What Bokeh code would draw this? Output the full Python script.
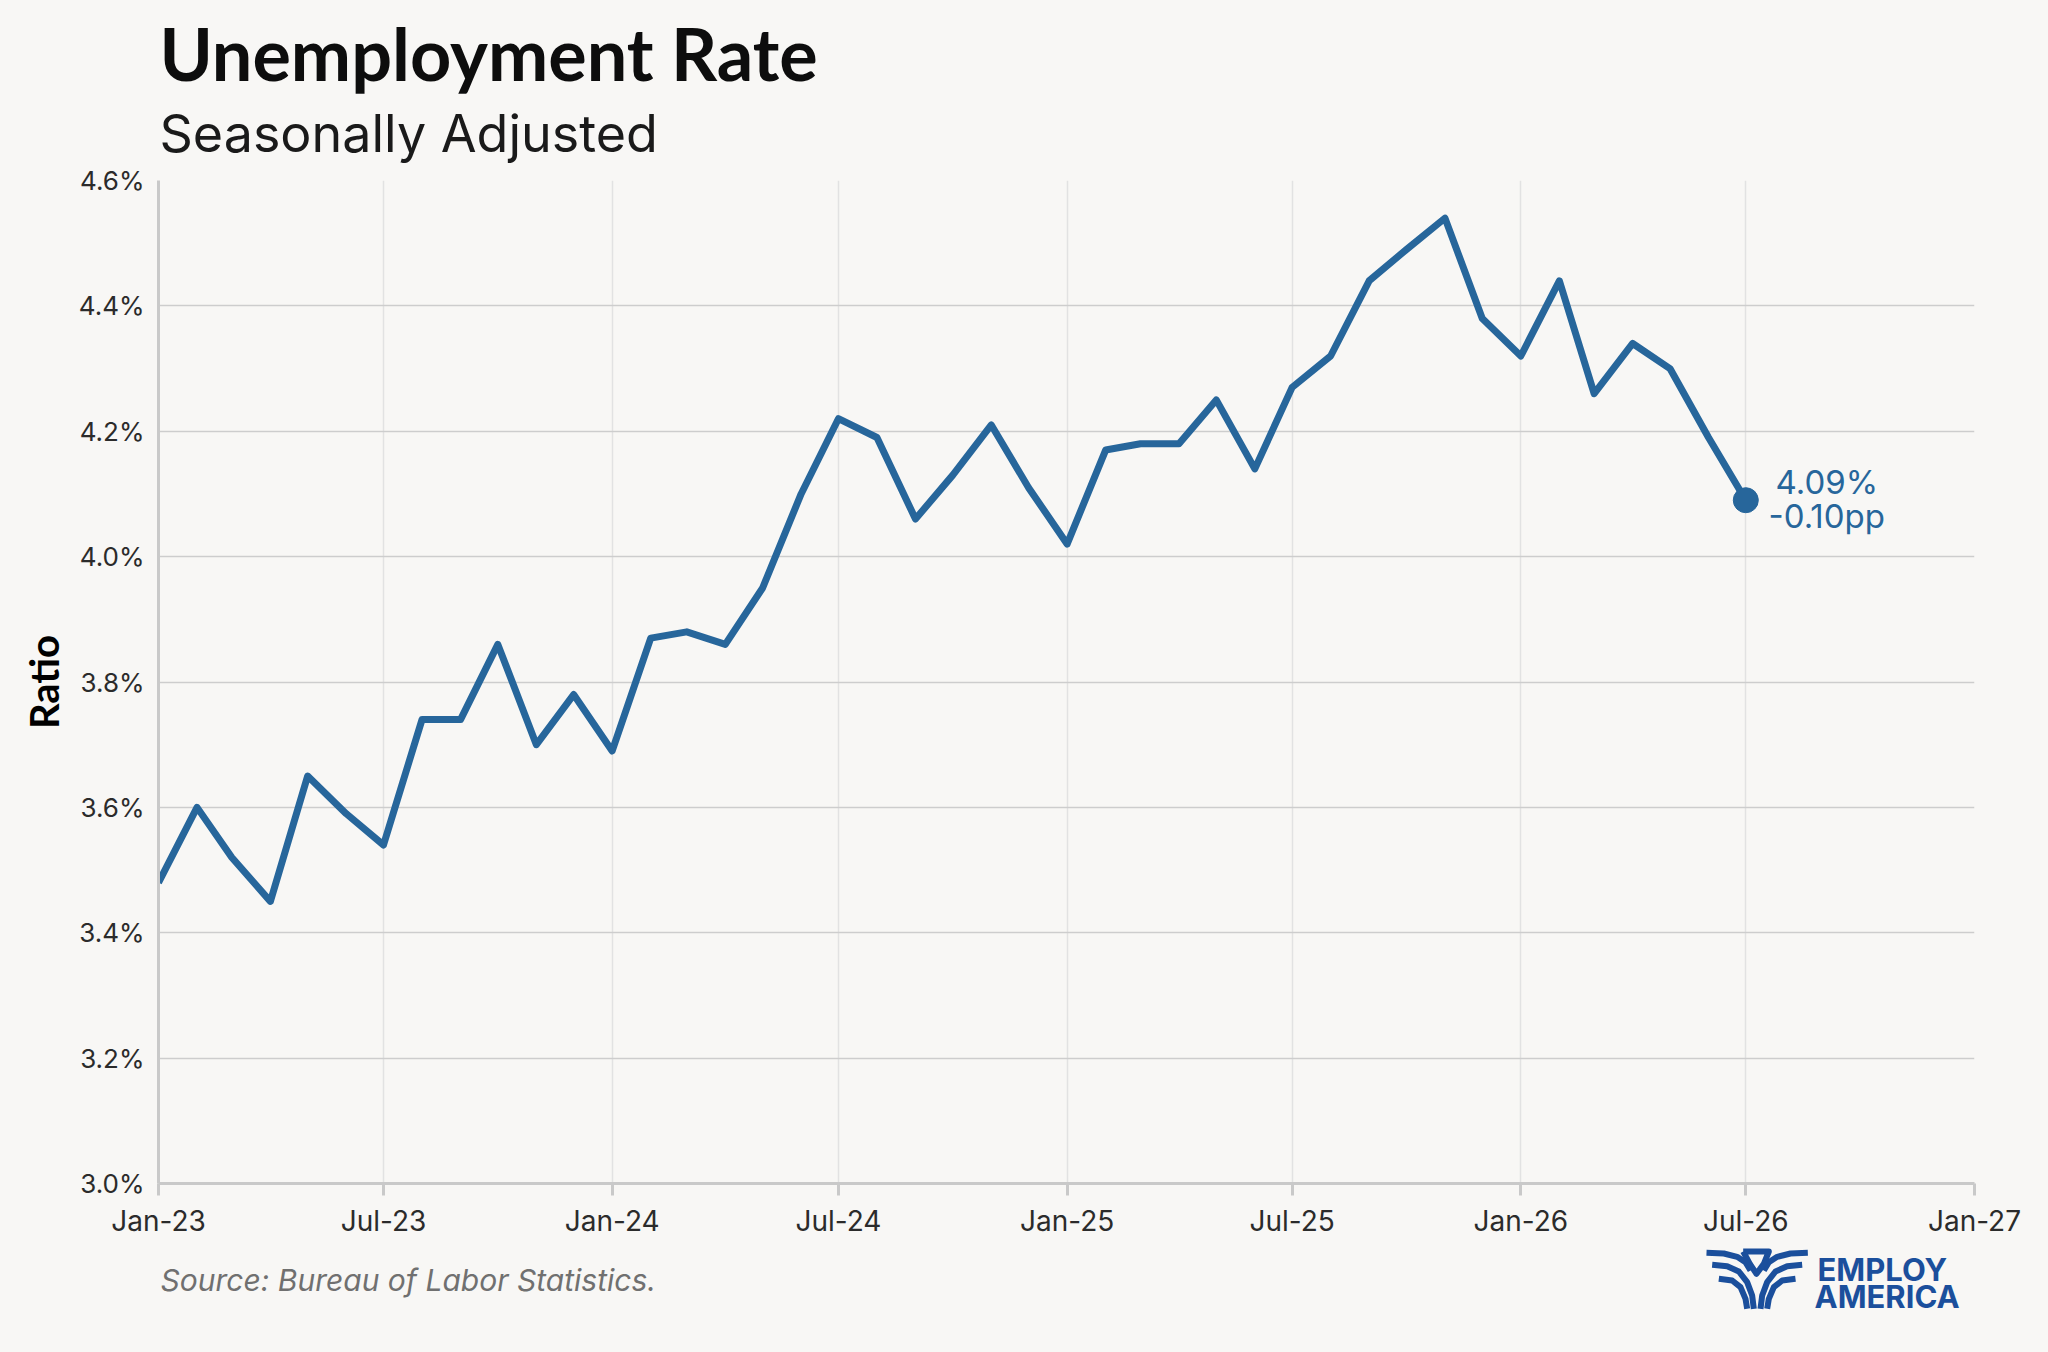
import pandas as pd
from bokeh.plotting import figure
from bokeh.layouts import column
from bokeh.models import Range1d, FixedTicker, DatetimeTickFormatter, PrintfTickFormatter
from bokeh.embed import file_html
from bokeh.resources import INLINE
from bokeh.core.properties import value

# monthly unemployment rate, Jan-23 .. Jul-26
months = pd.date_range("2023-01-01", "2026-07-01", freq="MS")
rate = [3.48, 3.60, 3.52, 3.45, 3.65, 3.59, 3.54, 3.74, 3.74, 3.86, 3.70, 3.78,
        3.69, 3.87, 3.88, 3.86, 3.95, 4.10, 4.22, 4.19, 4.06, 4.13, 4.21, 4.11,
        4.02, 4.17, 4.18, 4.18, 4.25, 4.14, 4.27, 4.32, 4.44, 4.49, 4.54, 4.38,
        4.32, 4.44, 4.26, 4.34, 4.30, 4.19, 4.09]
x_ticks = pd.date_range("2023-01-01", "2027-01-01", freq="6MS")
y_ticks = [3.0, 3.2, 3.4, 3.6, 3.8, 4.0, 4.2, 4.4, 4.6]

title = "Unemployment Rate"
subtitle = "Seasonally Adjusted"
source = "Source: Bureau of Labor Statistics."

BG = "#f8f7f5"
BLUE = "#27669b"
LOGO = "#1b4f9c"
LEFT, RIGHT, FRAME_W = 158, 74, 1816
HEAD_H, TOP, FRAME_H, BOTTOM = 164, 16, 1003, 60
FOOT_H = 1352 - HEAD_H - TOP - FRAME_H - BOTTOM


def blank(h):
    # a bare strip whose x units are page pixels
    f = figure(title=None, frame_width=FRAME_W, frame_height=h,
               x_range=Range1d(LEFT, LEFT + FRAME_W), y_range=Range1d(0, h),
               output_backend="svg", toolbar_location=None)
    f.min_border_left = LEFT
    f.min_border_right = RIGHT
    f.min_border_top = 0
    f.min_border_bottom = 0
    f.axis.visible = False
    f.grid.visible = False
    f.outline_line_color = None
    f.background_fill_color = BG
    f.border_fill_color = BG
    return f


def label(f, x, y, txt, font, size, color, style="normal", lift=0.3, **kw):
    # svg text sits a bit low on its baseline; lift it back up
    f.text([x], [y], text=[txt], text_font=value(font), text_font_style=style,
           text_font_size=f"{size}px", text_color=color, text_baseline="alphabetic",
           y_offset=kw.pop("y_offset", 0) - round(lift * size), **kw)


# header (y measured up from the strip bottom)
head = blank(HEAD_H)
label(head, 159, HEAD_H - 80, title, "Lato", 72, "#0d0d0d", "bold", lift=0.39)
label(head, 159, HEAD_H - 149, subtitle, "Inter", 52, "#1a1a1a")

# main chart
p = figure(x_axis_type="datetime", output_backend="svg", toolbar_location=None,
           frame_width=FRAME_W, frame_height=FRAME_H,
           x_range=Range1d(x_ticks[0], x_ticks[-1]), y_range=Range1d(3.0, 4.6))
p.min_border_left = LEFT
p.min_border_right = RIGHT
p.min_border_top = TOP
p.min_border_bottom = BOTTOM
p.background_fill_color = BG
p.border_fill_color = BG
p.outline_line_color = None

p.xaxis.ticker = FixedTicker(ticks=[t.timestamp() * 1000 for t in x_ticks])
p.xaxis.formatter = DatetimeTickFormatter(months="%b-%y", years="%b-%y", days="%b-%y")
p.yaxis.ticker = FixedTicker(ticks=y_ticks)
p.yaxis.formatter = PrintfTickFormatter(format="%.1f%%")
for ax in (p.xaxis, p.yaxis):
    ax.axis_line_color = "#c9c9c9"
    ax.axis_line_width = 3
    ax.major_tick_line_color = "#c9c9c9"
    ax.major_tick_line_width = 3
    ax.minor_tick_line_color = None
    ax.major_label_text_font = "Inter"
    ax.major_label_text_color = "#2b2b2b"
p.xaxis.major_label_text_font_size = "28px"
p.yaxis.major_label_text_font_size = "26px"
p.xaxis.major_tick_in = 0
p.xaxis.major_tick_out = 12
p.xaxis.major_label_standoff = 8
p.yaxis.major_tick_in = 0
p.yaxis.major_tick_out = 0
p.yaxis.major_label_standoff = 14
p.yaxis.axis_label = "Ratio"
p.yaxis.axis_label_text_font = "Lato"
p.yaxis.axis_label_text_font_style = "bold"
p.yaxis.axis_label_text_font_size = "40px"
p.yaxis.axis_label_text_color = "#000000"
p.yaxis.axis_label_standoff = 8

p.ygrid.grid_line_color = "#cdcdcd"
p.ygrid.grid_line_width = 1.5
p.xgrid.grid_line_color = "#e2e2e2"
p.xgrid.grid_line_width = 1.5

p.line(months, rate, line_width=7, color=BLUE, line_join="round")
p.scatter([months[-1]], [rate[-1]], size=25, color=BLUE)
last = f"{rate[-1]:.2f}%"
change = f"{rate[-1] - rate[-2]:.2f}pp"
label(p, months[-1], rate[-1], last, "Inter", 33, BLUE, x_offset=81, y_offset=-8,
      text_align="center")
label(p, months[-1], rate[-1], change, "Inter", 33, BLUE, x_offset=81, y_offset=26,
      text_align="center")

# footer: source note and logo (y measured up from the page bottom)
foot = blank(FOOT_H)
label(foot, 160, 1352 - 1288, source, "Inter", 30, "#707070", "italic")
label(foot, 1817, 1352 - 1278, "EMPLOY", "Inter", 31, LOGO, "bold")
label(foot, 1814, 1352 - 1305, "AMERICA", "Inter", 31, LOGO, "bold")

wing = [
    [(18, 22), (70, 24), (110, 34), (135, 50), (150, 75)],
    [(35, 58), (80, 62), (115, 78), (140, 110), (155, 150), (160, 190)],
    [(55, 100), (95, 105), (120, 125), (135, 160), (140, 190)],
]
eagle_head = [(128, 18), (205, 18), (190, 55), (168, 85), (148, 55), (128, 18)]
strokes = []
for s in wing:
    strokes.append(s)
    strokes.append([(340 - zx, zy) for zx, zy in s])
strokes.append(eagle_head)
foot.multi_line([[1700 + zx / 3 for zx, zy in s] for s in strokes],
                [[1352 - (1245 + zy / 3) for zx, zy in s] for s in strokes],
                line_width=6, color=LOGO, line_join="round")

layout = column(head, p, foot, spacing=0, background=BG)
html = file_html(layout, INLINE)
html = html.replace("<head>", "<head><style>body{background:%s;}</style>" % BG, 1)
open("out.html", "w").write(html)
